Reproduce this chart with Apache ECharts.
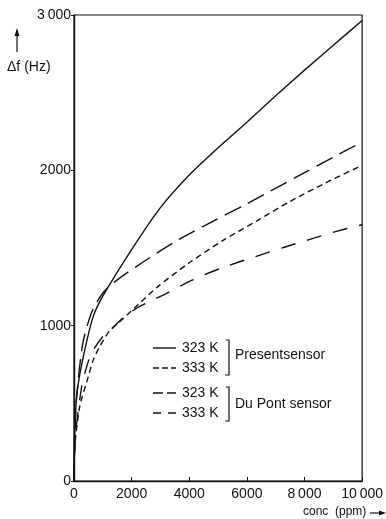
<!DOCTYPE html>
<html>
<head>
<meta charset="utf-8">
<script src="https://cdn.jsdelivr.net/npm/echarts@6/dist/echarts.min.js"></script>
<style>
  html, body { margin: 0; padding: 0; background: #fff; }
  #chart { width: 386px; height: 519px; }
</style>
</head>
<body>
<div id="chart"></div>
<script>
// Frequency shift Δf (Hz) versus gas concentration (ppm)
const xTicks = [0, 2000, 4000, 6000, 8000, 10000];
const xTickLabels = ['0', '2000', '4000', '6000', '8\u2009000', '10\u2009000'];
const yTicks = [0, 1000, 2000, 3000];
const yTickLabels = ['0', '1000', '2000', '3\u2009000'];

// Present sensor, 323 K
const present323Conc = [0, 30, 100, 300, 660, 1000, 2000, 3000, 4000, 5000, 6000, 7000, 8000, 9000, 10000];
const present323Df   = [0, 330, 560, 780, 1055, 1190, 1490, 1760, 1970, 2145, 2310, 2480, 2645, 2805, 2965];

// Present sensor, 333 K
const present333Conc = [0, 30, 200, 430, 660, 890, 1230, 1700, 2250, 2900, 4000, 5200, 6350, 7500, 8850, 10000];
const present333Df   = [0, 230, 480, 630, 775, 865, 965, 1045, 1140, 1250, 1405, 1552, 1675, 1800, 1930, 2032];

// Du Pont sensor, 323 K
const dupont323Conc = [0, 30, 100, 300, 600, 1000, 1500, 2400, 3500, 4800, 5900, 6800, 8000, 9000, 10000];
const dupont323Df   = [0, 320, 560, 880, 1080, 1210, 1295, 1410, 1540, 1670, 1775, 1865, 1985, 2085, 2182];

// Du Pont sensor, 333 K
const dupont333Conc = [0, 30, 100, 300, 600, 1000, 1230, 1700, 2250, 3200, 4100, 5100, 6300, 7300, 8300, 9200, 10000];
const dupont333Df   = [0, 220, 380, 640, 820, 930, 965, 1050, 1121, 1207, 1293, 1370, 1445, 1505, 1562, 1612, 1650];

const pairs = (xs, ys) => xs.map((x, i) => [x, ys[i]]);

const FONT = 'Liberation Sans';
const INK = '#111';

const chart = echarts.init(document.getElementById('chart'), null, { renderer: 'canvas' });

function curve(name, xs, ys, dash, width) {
  return {
    name: name,
    type: 'line',
    data: pairs(xs, ys),
    smooth: 0.25,
    showSymbol: false,
    silent: true,
    lineStyle: { color: INK, width: width, type: dash }
  };
}

// hand-drawn style legend with brackets grouping the sensors
const legendRows = [
  { y: 348, dash: 'solid', label: '323 K' },
  { y: 368, dash: [6, 3], label: '333 K' },
  { y: 393, dash: [10, 4], label: '323 K' },
  { y: 413, dash: [8, 7], label: '333 K' }
];
const legendGraphics = [];
legendRows.forEach(r => {
  legendGraphics.push({
    type: 'line', shape: { x1: 153, y1: r.y, x2: 176, y2: r.y },
    style: { stroke: INK, lineWidth: 1.4, lineDash: r.dash === 'solid' ? null : r.dash }
  });
  legendGraphics.push({
    type: 'text', x: 182, y: r.y,
    style: { text: r.label, font: '14px ' + FONT, fill: INK, textVerticalAlign: 'middle' }
  });
});
function bracket(y1, y2) {
  return {
    type: 'polyline',
    shape: { points: [[226, y1], [229, y1], [229, y2], [225, y2]] },
    style: { stroke: INK, lineWidth: 1.2, fill: null }
  };
}
legendGraphics.push(bracket(340, 375));
legendGraphics.push({
  type: 'text', x: 235, y: 355,
  style: { text: 'Presentsensor', font: '14px ' + FONT, fill: INK, textVerticalAlign: 'middle' }
});
legendGraphics.push(bracket(387, 421));
legendGraphics.push({
  type: 'text', x: 235, y: 404,
  style: { text: 'Du Pont sensor', font: '14px ' + FONT, fill: INK, textVerticalAlign: 'middle' }
});

// axis names with arrows
const axisNameGraphics = [
  { type: 'line', shape: { x1: 17, y1: 52, x2: 17, y2: 32 }, style: { stroke: INK, lineWidth: 1.2 } },
  { type: 'polygon', shape: { points: [[14.5, 36], [17, 28], [19.5, 36]] }, style: { fill: INK } },
  { type: 'text', x: 7, y: 67,
    style: { text: 'Δf (Hz)', font: '14px ' + FONT, fill: INK, textVerticalAlign: 'middle' } },
  { type: 'text', x: 303, y: 512,
    style: { text: 'conc  (ppm)', font: '12px ' + FONT, fill: INK, textVerticalAlign: 'middle' } },
  { type: 'line', shape: { x1: 370, y1: 513, x2: 382, y2: 513 }, style: { stroke: INK, lineWidth: 1.2 } },
  { type: 'polygon', shape: { points: [[379, 510.5], [386, 513], [379, 515.5]] }, style: { fill: INK } }
];

chart.setOption({
  animation: false,
  backgroundColor: '#fff',
  grid: {
    left: 74, top: 15, width: 293, height: 466,
    show: true, borderColor: INK, borderWidth: 1.2, backgroundColor: 'transparent'
  },
  xAxis: {
    type: 'value', min: 0, max: 10000, interval: 2000,
    axisLine: { show: true, lineStyle: { color: INK, width: 1.4 } },
    axisTick: { show: true, inside: true, length: 4, lineStyle: { color: INK } },
    splitLine: { show: false },
    axisLabel: {
      color: INK, fontFamily: FONT, fontSize: 14, margin: 6,
      formatter: v => xTickLabels[xTicks.indexOf(v)] ?? ''
    }
  },
  yAxis: {
    type: 'value', min: 0, max: 3000, interval: 1000,
    axisLine: { show: true, lineStyle: { color: INK, width: 1.4 } },
    axisTick: { show: true, inside: false, length: 3, lineStyle: { color: INK } },
    splitLine: { show: false },
    axisLabel: {
      color: INK, fontFamily: FONT, fontSize: 14, margin: 3,
      formatter: v => yTickLabels[yTicks.indexOf(v)] ?? ''
    }
  },
  series: [
    curve('Present sensor 323 K', present323Conc, present323Df, 'solid', 1.4),
    curve('Present sensor 333 K', present333Conc, present333Df, [6, 4], 1.4),
    curve('Du Pont sensor 323 K', dupont323Conc, dupont323Df, [18, 8], 1.4),
    curve('Du Pont sensor 333 K', dupont333Conc, dupont333Df, [15, 12], 1.4)
  ],
  graphic: legendGraphics.concat(axisNameGraphics)
});
</script>
</body>
</html>
